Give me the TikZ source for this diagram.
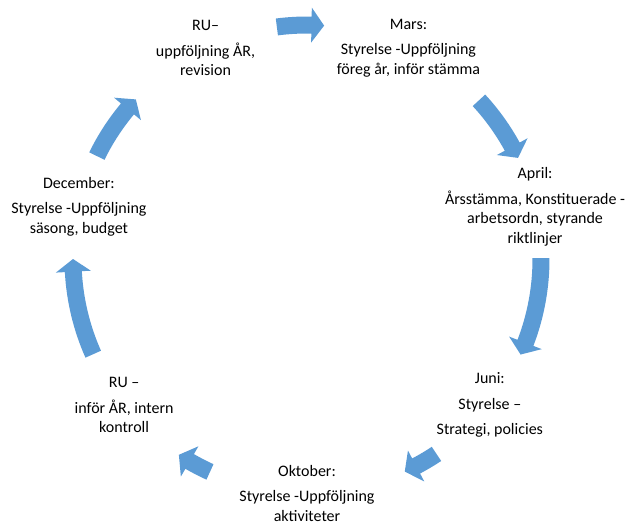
\documentclass[tikz,border=0pt]{standalone}
\usepackage{fontspec}
\setmainfont{Carlito}
\definecolor{cycleblue}{HTML}{5B9BD5}

\begin{document}
\begin{tikzpicture}[x=1pt, y=1pt]
	\tikzstyle{stage}  = [align=center, inner sep=0pt, font=\fontsize{16}{19.5}\selectfont]
	\tikzstyle{cyclearrow} = [fill=cycleblue, draw=none]

	\useasboundingbox (-307,-264) rectangle (323,259);

	\foreach \name/\ang/\txt in {ru1/115.7/{RU–\\[6pt] uppföljning ÅR,\\ revision},
			mars/64.3/{Mars:\\[6pt] Styrelse -Uppföljning\\ föreg år, inför stämma},
			april/12.9/{April:\\[6pt] Årsstämma, Konstituerade -\\ arbetsordn, styrande\\ riktlinjer},
			juni/-38.6/{Juni:\\[6pt] Styrelse –\\[6pt] Strategi, policies},
			oktober/-90/{Oktober:\\[6pt] Styrelse -Uppföljning\\ aktiviteter},
			ru2/-141.4/{RU –\\[6pt] inför ÅR, intern\\ kontroll},
			december/167.1/{December:\\[6pt] Styrelse -Uppföljning\\ säsong, budget}}
		\node[stage] (\name) at (\ang:234) {\txt};

	\foreach \a/\b in {97.4/85.8, 42.7/25.6, 0.2/-24.1, -56.4/-65.3, -114.5/-123.2, -156/-180, 153.9/137}
		\fill[cyclearrow] (\a:242.5) arc[start angle=\a, end angle=\b+3.1, radius=242.5]
			-- (\b+3.1:251.5) -- (\b:234) -- (\b+3.1:216.5) -- (\b+3.1:225.5)
			arc[start angle=\b+3.1, end angle=\a, radius=225.5] -- cycle;
\end{tikzpicture}
\end{document}
